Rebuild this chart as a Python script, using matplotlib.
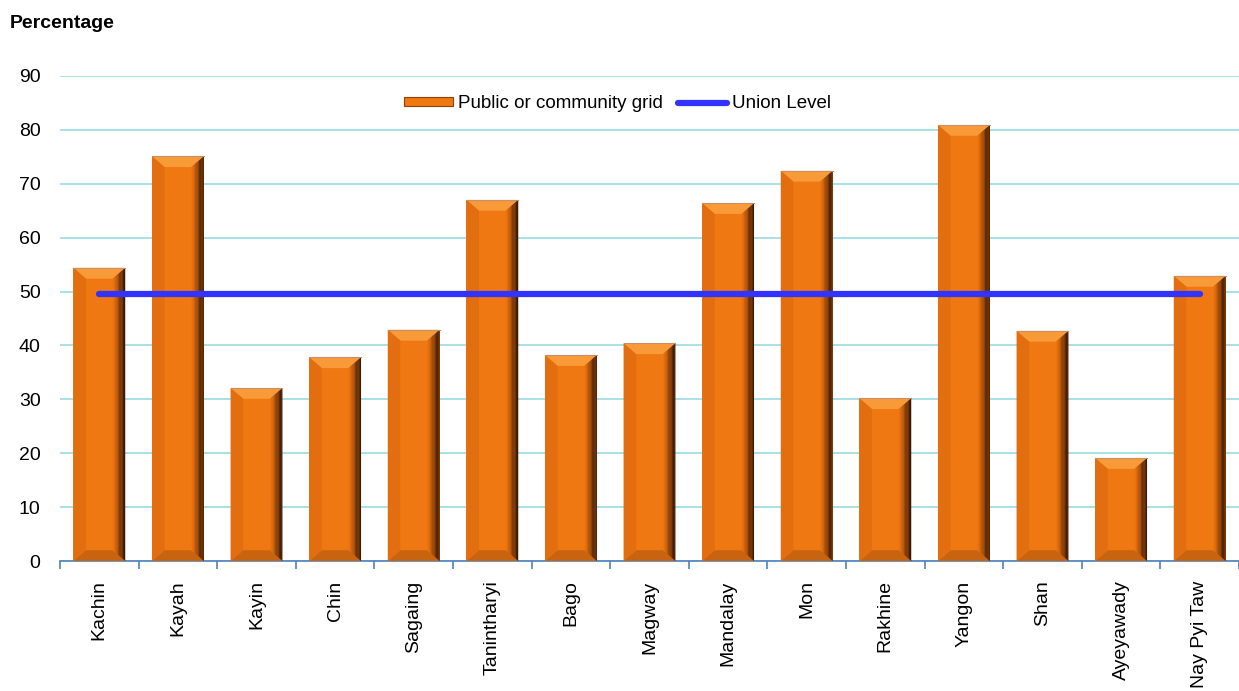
import numpy as np
import matplotlib.pyplot as plt
from matplotlib.patches import Polygon, Patch
from matplotlib.lines import Line2D

regions = ['Kachin', 'Kayah', 'Kayin', 'Chin', 'Sagaing', 'Tanintharyi', 'Bago',
           'Magway', 'Mandalay', 'Mon', 'Rakhine', 'Yangon', 'Shan', 'Ayeyawady',
           'Nay Pyi Taw']
grid_pct = [54.4, 75.1, 32.1, 37.8, 42.9, 67.0, 38.2, 40.4, 66.4, 72.4, 30.2, 80.9,
            42.7, 19.1, 52.9]
union_level = 49.5

plt.rcParams['font.family'] = ['Liberation Sans', 'DejaVu Sans']

fig = plt.figure(figsize=(12.39, 6.91), dpi=100)
ax = fig.add_axes([60/1239, 1 - 561/691, 1 - 60/1239, (561 - 76)/691])

x = np.arange(len(regions))
width = 0.66
orange = '#F07812'
bars = ax.bar(x, grid_pct, width=width, color=orange, zorder=2, linewidth=0)

# bevel look
dx = 0.16
dy = 2.0
for b in bars:
    x0 = b.get_x()
    x1 = x0 + b.get_width()
    h = b.get_height()
    # top
    ax.add_patch(Polygon([(x0, h), (x1, h), (x1 - dx, h - dy), (x0 + dx, h - dy)],
                         closed=True, color='#F89A38', lw=0, zorder=3))
    # bottom
    ax.add_patch(Polygon([(x0, 0), (x1, 0), (x1 - dx, dy), (x0 + dx, dy)],
                         closed=True, color='#C8640F', lw=0, zorder=3))
    # left
    ax.add_patch(Polygon([(x0, 0), (x0, h), (x0 + dx, h - dy), (x0 + dx, dy)],
                         closed=True, color='#E26E10', lw=0, zorder=3))
    # right side, shaded in strips
    cols = ['#EC7410', '#E06C0F', '#CC620E', '#B4560C', '#9A4A0B', '#803C09', '#683008',
            '#542607', '#441E06', '#3A1905']
    n = len(cols)
    for k in range(n):
        a = x1 - dx + dx * k / n
        c = x1 - dx + dx * (k + 1) / n
        fa = k / n
        fc = (k + 1) / n
        ax.add_patch(Polygon([(a, dy * (1 - fa)), (a, h - dy * (1 - fa)),
                              (c, h - dy * (1 - fc)), (c, dy * (1 - fc))],
                             closed=True, color=cols[k], lw=0, zorder=3))
    ax.plot([x0, x1], [h, h], color='#C8906A', lw=0.8, zorder=4)

ax.plot([x[0], x[-1]], [union_level, union_level], color='#3333FF', lw=4.5,
        solid_capstyle='round', zorder=5)

ax.set_xlim(-0.5, len(regions) - 0.5)
ax.set_ylim(0, 90)
ax.set_yticks(np.arange(0, 91, 10))
ax.yaxis.grid(True, color='#9ADCE2', lw=1.2)
ax.set_axisbelow(True)
ax.tick_params(axis='y', length=0, labelsize=14, pad=14)
ax.set_xticks(x)
ax.set_xticklabels(regions, rotation=90, fontsize=14)
ax.tick_params(axis='x', length=0, pad=14)
ax.set_xticks(np.arange(-0.5, len(regions), 1), minor=True)
ax.tick_params(axis='x', which='minor', length=6, color='#4F81BD', width=1.2)
for s in ['top', 'right', 'left']:
    ax.spines[s].set_visible(False)
ax.spines['bottom'].set_color('#4F81BD')
ax.spines['bottom'].set_linewidth(1.2)

fig.text(10/1239, 1 - 23/691, 'Percentage', fontsize=14, fontweight='bold', va='center')

handles = [Patch(facecolor=orange, edgecolor='#8E420A', lw=0.8),
           Line2D([0], [0], color='#3333FF', lw=4.5, solid_capstyle='round')]
ax.legend(handles, ['Public or community grid', 'Union Level'], loc='upper center',
          bbox_to_anchor=(0.473, 0.995), ncol=2, frameon=False, fontsize=13.5,
          handlelength=2.6, handleheight=0.4, handletextpad=0.3, columnspacing=0.8)

fig.savefig('out.png', dpi=100)
